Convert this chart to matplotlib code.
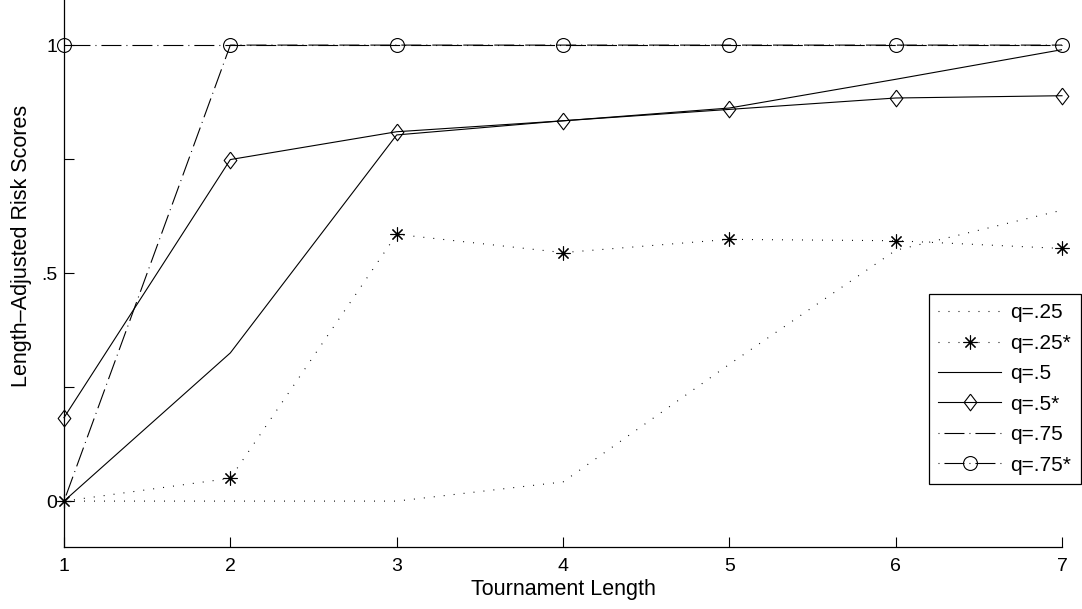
import matplotlib
matplotlib.use('Agg')
from matplotlib import pyplot as plt

plt.rcParams['font.family'] = ['Liberation Sans', 'DejaVu Sans']
plt.rcParams['lines.scale_dashes'] = False

# tournament lengths
lengths = [1, 2, 3, 4, 5, 6, 7]

# length-adjusted risk scores
q25 = [0, 0, 0, 0.042, 0.30, 0.55, 0.638]
q25_star = [0, 0.05, 0.585, 0.545, 0.574, 0.571, 0.554]
q50 = [0, 0.325, 0.803, 0.834, 0.862, 0.925, 0.99]
q50_star = [0.183, 0.749, 0.81, 0.834, 0.859, 0.884, 0.889]
q75 = [0, 1, 1, 1, 1, 1, 1]
q75_star = [1, 1, 1, 1, 1, 1, 1]

y_ticks = [0, 0.25, 0.5, 0.75, 1]
y_tick_labels = ['0', '', '.5', '', '1']

dotted = (0, (0.7, 6.5))
# start the pattern on the dot, like the legend samples in the original
dashdot = (18, (14.4, 3.6, 0.7, 3.6))
diamond = [(0, 1), (0.76, 0), (0, -1), (-0.76, 0), (0, 1)]
asterisk = (8, 2, 0)

fig = plt.figure(figsize=(10.82, 6.09), dpi=100)
# the top of the axes sits above the picture (cropped like the original)
ax_h = 1.32 * 456
ax = fig.add_axes([64 / 1082, 1 - 546.7 / 609, 998 / 1082, ax_h / 609])

lw = 0.8
ax.plot(lengths, q25, color='black', lw=lw, linestyle=dotted, label='q=.25')
ax.plot(lengths, q25_star, color='black', lw=lw, linestyle=dotted, marker=asterisk,
        markersize=10, markeredgewidth=0.8, label='q=.25*', clip_on=False)
ax.plot(lengths, q50, color='black', lw=lw, linestyle='-', label='q=.5')
ax.plot(lengths, q50_star, color='black', lw=lw, linestyle='-', marker=diamond,
        markersize=12, markerfacecolor='none', markeredgewidth=0.8, label='q=.5*',
        clip_on=False)
ax.plot(lengths, q75, color='black', lw=lw, linestyle=dashdot, label='q=.75')
ax.plot(lengths, q75_star, color='black', lw=lw, linestyle=dashdot, marker='o',
        markersize=10, markerfacecolor='none', markeredgewidth=0.8, label='q=.75*',
        clip_on=False)

ax.set_xlim(1, 7)
ax.set_ylim(-0.1, 1.22)
ax.set_xticks(lengths)
ax.set_yticks(y_ticks)
ax.set_yticklabels(y_tick_labels)

ax.spines['top'].set_visible(False)
ax.spines['right'].set_visible(False)
for s in ['left', 'bottom']:
    ax.spines[s].set_linewidth(0.9)
ax.tick_params(direction='in', length=7, width=0.8, labelsize=14, pad=5)
ax.tick_params(axis='x', pad=8)

ax.set_xlabel('Tournament Length', fontsize=15.5, labelpad=3)
ax.set_ylabel('Length\u2013Adjusted Risk Scores', fontsize=15.5, labelpad=6)

leg = ax.legend(loc='upper left', bbox_to_anchor=(929 / 1082, 1 - 294 / 609),
                bbox_transform=fig.transFigure, fontsize=15, numpoints=1,
                handlelength=3.0, handletextpad=0.45, labelspacing=0.55,
                borderpad=0.45, fancybox=False, framealpha=1, borderaxespad=0)
leg.get_frame().set_edgecolor('black')
leg.get_frame().set_linewidth(0.9)

fig.savefig('out.png', dpi=100)
